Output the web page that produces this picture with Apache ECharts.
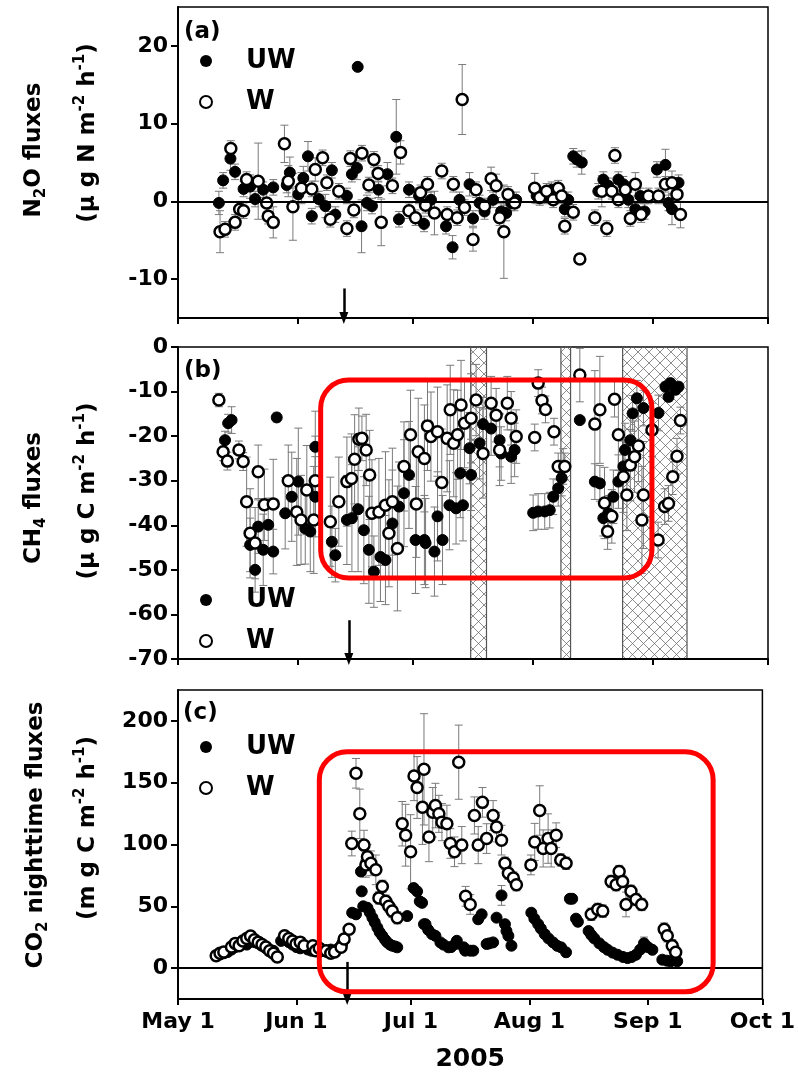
<!DOCTYPE html>
<html>
<head>
<meta charset="utf-8">
<title>N2O, CH4 and CO2 fluxes 2005</title>
<script src="https://cdn.jsdelivr.net/npm/echarts@6/dist/echarts.min.js"></script>
<style>
html, body { margin: 0; padding: 0; background: #fff; }
#main { width: 798px; height: 1073px; }
</style>
</head>
<body>
<div id="main"></div>
<script>
// x values are days after May 1, 2005
const monthTicks = [0, 31, 61, 92, 123, 153];
const monthLabels = ['May 1', 'Jun 1', 'Jul 1', 'Aug 1', 'Sep 1', 'Oct 1'];
const yearLabel = '2005';
const n2oTicks = [-10, 0, 10, 20];
const co2Ticks = [0, 50, 100, 150, 200];

// [day, flux, error]
const n2oUW = [[10.6,-0.2,1.5],[11.7,2.7,1],[13.6,5.5,1.5],[14.8,3.8,1],[17,1.6,1],[18.7,1.9,1.5],[20,0.3,1],[22.1,1.5,1],[24.7,1.8,1],[28.2,2.1,1],[29,3.7,2],[31.2,0.9,1],[32.5,3,1.5],[33.7,5.8,1.9],[34.7,-1.9,1],[36.5,0.3,1],[38.2,-0.6,1.5],[39.9,4,1],[40.8,-1.7,1],[43.8,0.7,1],[45.1,3.5,1],[46.4,4.3,1.5],[46.6,17.3,0],[47.6,-3.2,3.4],[49,-0.2,1],[50.3,-0.6,1],[52,1.5,1],[54.3,3.5,1.5],[56.6,8.3,4.8],[57.3,-2.3,1],[59.9,1.5,1],[62.5,0.7,1],[63.8,-2.9,1],[65.6,0.2,1],[69.5,-3.2,1],[71.2,-5.9,1.5],[73,0.2,1],[75.6,2.2,1.5],[76.5,-2.2,1],[78.2,-0.2,1],[79.5,-1.3,1],[81.7,0.2,1],[83.8,-1.3,1],[85.1,-1.5,1],[86.4,-0.2,1],[87.7,0.2,1],[93,0.7,1],[95.1,0.7,1],[96.9,1.5,1],[100.3,-1,1],[101.2,0.2,1],[102.5,5.8,1],[103.4,5.4,1],[104.7,5,1.5],[109,1.3,1],[110.3,2.8,1],[111.6,2,1],[114.2,2.8,1],[115.5,2.2,1],[116.8,0.2,1],[118.6,-1,1],[119.9,0.7,1],[121,-1.3,1],[124.2,4.1,1],[126.4,4.7,2],[127.2,-0.2,1],[128.1,-1,2],[129.8,2.4,1]];
const n2oW = [[10.9,-3.9,2.7],[12.2,-3.6,1],[13.7,6.8,1],[14.8,-2.7,1],[16,-1,1],[17,-1.2,1],[17.8,2.8,1],[20.8,2.6,4.9],[23,-0.2,2],[23.4,-1.9,1],[24.7,-2.7,2],[27.6,7.4,2.4],[28.6,2.6,2],[29.8,-0.7,4.3],[32,1.7,2],[34.7,1.6,1],[35.6,4.1,1.5],[37.5,5.6,1],[38.6,2.4,1],[39.5,-2.3,1],[41.7,1.3,1],[43.8,-3.5,1],[44.7,5.5,1],[45.6,-1.1,1],[47.7,6.2,1],[49.5,2.1,1],[50.8,5.4,1],[51.9,3.6,1],[52.7,-2.7,3],[55.6,2,1],[57.7,6.3,1.5],[59.9,-1.2,1],[61.6,-2.1,1],[62.9,1.1,1],[64.2,-0.5,1],[64.7,2.2,1],[66.5,-1.5,2.8],[68.4,3.9,1],[69.8,-1.7,1],[71.4,2.2,1],[72.4,-2.1,1],[73.7,13.1,4.5],[74.3,-0.8,1],[76.5,-4.9,1.5],[77.3,1.5,1],[79.5,-0.6,1],[81.2,2.9,1.5],[82.5,2,1.5],[83.4,-2.1,1],[84.5,-3.9,6],[85.6,0.9,1],[87.3,-0.2,1],[92.5,1.7,1.9],[93.8,0.5,1],[95.6,1.3,1],[97.3,0.2,1],[98.6,1.7,1],[99.5,0.7,1],[100.3,-3.2,1],[102.5,-1.4,1],[104.2,-7.4,0.5],[108.1,-2.1,1],[109.9,1.3,2],[111.2,-3.5,1],[112.5,1.3,1],[113.3,5.9,1],[114.2,0.2,1],[116,1.5,1],[117.3,-2.2,1],[118.6,2.2,1.5],[120.1,-1.7,1],[122,0.7,1],[124.6,0.7,1],[126.4,2.2,1],[128.1,2.4,1.5],[129.4,0.9,1],[130.3,-1.7,1.7]];

const ch4UW = [[12.2,-20.9,2],[13,-17.1,2],[13.9,-16.4,3],[18.7,-44.4,6],[20,-50,5],[20.8,-40.3,6],[22.1,-45.5,8],[23.4,-39.9,6],[24.7,-45.9,5],[25.6,-15.8,1],[27.8,-37.3,8],[29.5,-33.6,10],[31.2,-30.2,12],[33,-40.7,8],[34.3,-41.4,9],[35.6,-22.4,8],[35.6,-33.6,9],[39.9,-43.7,8],[40.8,-46.7,6],[43.8,-38.8,10],[45.1,-38.4,12],[46.7,-36.4,14],[48.2,-41.1,12],[49.5,-45.5,12],[50.8,-50.4,8],[52.5,-47.1,10],[53.8,-47.8,10],[55.6,-39.6,12],[57.3,-35.8,10],[58.6,-32.8,12],[59.9,-28.7,12],[61.6,-43.3,12],[63.9,-43.3,10],[64.2,-44,10],[66.5,-45.9,10],[67.3,-38,10],[68.6,-43.3,10],[70.4,-35.5,10],[72.1,-36.2,8],[73.2,-28.3,10],[73.9,-35.5,8],[75.6,-22.7,8],[76,-28.7,8],[78.2,-21.6,8],[79.1,-17.3,6],[81.2,-18.3,6],[83.4,-20.9,6],[83.8,-23.9,6],[86.4,-24.6,6],[87.3,-23.1,6],[92.1,-37.2,4],[93.4,-36.9,4],[95.1,-36.9,4],[96.4,-36.6,4],[97.3,-33.6,4],[98.6,-31.7,4],[99.5,-29.4,4],[99.9,-26.8,4],[104.2,-16.4,0],[108.1,-30.2,4],[109.4,-30.6,4],[110.3,-38.4,4],[111.6,-37.3,4],[112.9,-33.6,6],[114.2,-30.2,6],[115.5,-26.8,6],[115.9,-23.1,6],[117.3,-20.9,6],[117.9,-14.9,4],[119,-11.5,4],[120.7,-13.7,4],[124.6,-14.8,4],[126.4,-8.9,1],[127.2,-11.2,1],[127.7,-8.1,1],[129,-9.6,1],[129.8,-8.9,1]];
const ch4W = [[10.6,-11.9,1.5],[11.7,-23.5,2],[12.8,-25.6,2],[15.8,-23.1,2],[16.9,-25.7,2],[17.8,-34.7,10],[18.7,-41.8,10],[20,-44,8],[20.8,-28,6],[22.4,-35.4,8],[24.7,-35.2,10],[28.6,-30,8],[30.8,-37,12],[31.9,-38.8,10],[33.4,-32.1,10],[35.2,-38.8,12],[35.6,-30,10],[39.5,-39.2,10],[41.7,-34.7,10],[43.8,-30.2,10],[45,-29.5,10],[45.8,-25.2,10],[46.9,-20.7,7],[47.7,-20.5,5],[48.8,-23.1,8],[49.7,-28.7,10],[50.3,-37.3,12],[52.1,-37,12],[53.8,-35.5,12],[54.7,-41.8,12],[55.6,-34.7,12],[56.9,-45.2,14],[58.6,-26.8,10],[60.3,-19.7,10],[61.8,-35.2,12],[62.3,-23.5,12],[63.9,-25,12],[64.7,-17.7,10],[65.6,-20.1,10],[67.3,-19,10],[68.4,-30.4,12],[69.8,-20.5,12],[70.6,-14.1,10],[71.5,-21.6,12],[72.5,-19.7,10],[73.4,-13,10],[74.3,-17.1,10],[76,-16,10],[77.3,-11.9,8],[79.1,-23.9,10],[81.2,-12.6,6],[82.5,-15.3,6],[83.4,-23.1,8],[85.4,-12.6,6],[86.4,-16,6],[87.7,-20.1,6],[92.5,-20.3,3],[93.4,-8.1,3],[94.4,-12,3],[95.3,-14,3],[97.5,-19,3],[98.6,-26.8,3],[100.3,-26.8,3],[104.2,-6.3,6],[108.1,-17.3,12],[109.4,-14.1,12],[110.6,-35,8],[111.4,-41.4,4],[112.5,-38,6],[113.2,-11.7,4],[114.2,-19.7,8],[115.5,-29.1,8],[116.4,-33.2,8],[117.3,-26.5,8],[118.4,-24.6,8],[119.4,-22.2,8],[120.3,-38.8,12],[120.7,-33.2,12],[122.9,-18.6,6],[124.5,-43.3,4],[126.2,-35.8,4],[127.2,-35.1,4],[128.3,-29.1,4],[129.4,-24.5,4],[130.3,-16.5,3]];

const co2UW = [[10,10,0],[11,11,0],[12,12,0],[13,13,0],[14,15,0],[15,17,0],[16,18,0],[17,20,0],[18,19,0],[19,22,0],[20,21,0],[21,20,0],[22,18,0],[23,16,0],[24,15,0],[25,14,0],[27,22,0],[28,24,0],[29,21,0],[30,19,0],[31,17,0],[32,16,0],[33,18,0],[34,15,0],[35,14,0],[36,15,0],[37,13,0],[38,14,0],[39,13,0],[40,15,0],[41,14,0],[42,16,0],[43,20,0],[45.6,44.8,0],[46.6,43.5,0],[47.9,78.1,0],[48.1,62.1,0],[48.5,50,0],[49.6,48.8,0],[50.2,45,0],[50.9,40.8,0],[51.5,37,0],[52.2,32.8,0],[52.8,29,0],[53.5,26.1,0],[54.2,23,0],[54.8,20.8,0],[55.5,19,0],[56.1,18.1,0],[56.8,17.5,0],[57.4,16.8,0],[60,42.1,0],[61.7,64.8,0],[62.6,62.1,0],[63.3,54,0],[63.9,52.8,0],[64.4,35.5,0],[64.8,35.5,0],[65.5,31,0],[66.5,27.5,0],[67.4,26.1,0],[68.7,20.8,0],[69.5,19,0],[70.8,16.8,0],[71.5,17,0],[72.6,19.5,0],[73,22.1,0],[74.8,16.8,0],[75.2,14.1,0],[76.5,14.1,0],[77.3,14.1,0],[78.6,39.5,0],[79.5,43.5,0],[80.8,19.5,0],[81.5,20,0],[82.5,20.8,0],[83.4,40.8,0],[84.7,58.8,8],[85.6,35.5,0],[86,30,0],[86.5,26.1,0],[87.3,18.1,0],[92.5,44.8,0],[93.3,40,0],[94.3,35.5,0],[95,32,0],[96,27.5,0],[97,24,0],[98.2,20.8,0],[99.3,18,0],[100.3,16.8,0],[101.6,12.8,0],[102.6,56.1,0],[103.2,56.1,0],[104.2,40,0],[104.7,37.5,0],[107.5,30,0],[108.2,26.8,0],[109,24,0],[110.3,20.1,0],[111.5,17,0],[112.5,14.8,0],[113.8,12.5,0],[115.1,10.8,0],[116.5,9,0],[117.7,8.1,0],[118.8,9,0],[119.9,10.8,0],[121,15,0],[122,20.1,5],[123,17,0],[124.2,14.8,0],[126.8,6.8,0],[128,6,0],[129,5.5,0],[130.7,5.5,0]];
const co2W = [[10,10,0],[11,12,0],[12,13,0],[14,17,0],[15,20,0],[16,18,0],[17,22,0],[18,24,0],[19,26,0],[20,23,0],[21,21,0],[22,19,0],[23,17,0],[24,14,0],[25,12,0],[26,9,0],[27.9,26.1,0],[29,24,0],[30,22,0],[30.9,19.5,0],[32,21,0],[33,18,0],[35.3,18.1,0],[36,14,0],[37,16,0],[38.8,14.1,0],[40,12,0],[41,13,0],[42.7,16.8,0],[43.5,23.5,0],[44.8,31.5,0],[45.5,100.8,10],[46.6,157.6,12],[47.6,124.8,20],[48.7,99.5,12],[49.2,83.5,10],[49.6,90.1,10],[50.5,84.8,10],[51.8,79.5,12],[52.6,56.8,5],[53.5,66.1,5],[54.4,54.1,5],[55.2,50,5],[56.1,46.1,5],[57.4,40.8,5],[58.7,116.8,18],[59.6,107.5,25],[60.9,94.1,30],[61.8,155.5,20],[62.6,146.1,25],[64,130.1,30],[64.4,160.8,45],[65.7,106.1,20],[66.7,126.1,20],[67.4,131.5,18],[68.3,124.8,15],[69.1,118.1,15],[70.4,116.8,15],[71.3,100.8,12],[72.4,94.1,12],[73.5,166.6,30],[74.3,99.5,15],[75.3,58.1,8],[76.5,51.5,8],[77.6,123.5,15],[78.6,99.5,15],[79.7,134.1,12],[80.8,104.8,12],[82.5,123.5,12],[83.4,114.1,12],[84.7,103.5,12],[85.6,84.8,5],[86.5,76.8,5],[87.8,72.8,5],[88.6,67.5,5],[92.4,83.5,8],[93.4,102.1,15],[94.7,127.5,20],[95.6,96.8,15],[96.9,104.8,20],[97.7,96.8,15],[99,107.5,10],[100.2,87.5,5],[101.6,84.8,5],[108.2,43.5,5],[109.9,47.5,5],[111.2,46.1,5],[113.4,70.1,5],[114.7,67.5,5],[115.5,78.1,5],[116.4,70.1,5],[117.3,51.5,10],[118.6,62.1,5],[119.9,55.5,5],[121.4,51.5,5],[127.3,31.5,5],[128.1,26.1,5],[129.4,18.1,5],[130.3,12.8,5]];

// flooded periods shaded in (b), [start day, end day]
const hatchBands = [[75.9, 80], [99.3, 101.8], [115.3, 132]];
// arrow (date of event) per panel
const arrowDays = [43, 44.3, 44.3];

const FONT = 'DejaVu Sans';
const chart = echarts.init(document.getElementById('main'));

// cross hatch pattern
const hatch = document.createElement('canvas');
hatch.width = 11; hatch.height = 11;
const hctx = hatch.getContext('2d');
hctx.strokeStyle = '#707070';
hctx.lineWidth = 0.8;
hctx.beginPath();
hctx.moveTo(0, 0); hctx.lineTo(11, 11);
hctx.moveTo(11, 0); hctx.lineTo(0, 11);
hctx.stroke();

const grids = [
  { left: 178, top: 7, width: 590, height: 311 },
  { left: 178, top: 347, width: 590, height: 312 },
  { left: 178, top: 690, width: 590, height: 312 }
].map(g => Object.assign(g, { show: true, borderColor: '#000', borderWidth: 1.5 }));

const boldText = { fontFamily: FONT, fontWeight: 'bold', color: '#000' };

function xAxisFor(gi, showLabel) {
  return {
    type: 'value', gridIndex: gi, min: 0, max: 153,
    axisLine: { onZero: false, lineStyle: { color: '#000', width: 2 } },
    axisTick: { inside: false, length: 6, customValues: monthTicks, lineStyle: { color: '#000', width: 2 } },
    axisLabel: Object.assign({
      show: showLabel, customValues: monthTicks, margin: 12, fontSize: 22,
      formatter: v => monthLabels[monthTicks.indexOf(v)]
    }, boldText),
    splitLine: { show: false },
    name: showLabel ? yearLabel : '',
    nameLocation: 'middle', nameGap: 48,
    nameTextStyle: Object.assign({ fontSize: 25 }, boldText)
  };
}

function yAxisFor(gi, min, max, ticks, interval) {
  const ax = {
    type: 'value', gridIndex: gi, min: min, max: max,
    axisLine: { show: true, onZero: false, lineStyle: { color: '#000', width: 2 } },
    axisTick: { show: true, inside: false, length: 7, lineStyle: { color: '#000', width: 2 } },
    axisLabel: Object.assign({ margin: 10, fontSize: 22 }, boldText),
    splitLine: { show: false }
  };
  if (ticks) {
    ax.axisTick.customValues = ticks;
    ax.axisLabel.customValues = ticks;
  } else {
    ax.interval = interval;
  }
  return ax;
}

// error bars drawn through the axes
function errorBars(data, gi) {
  return {
    type: 'custom', xAxisIndex: gi, yAxisIndex: gi, silent: true, z: 1,
    data: data, encode: { x: 0, y: 1 }, clip: true,
    renderItem: function (params, api) {
      const x = api.value(0), y = api.value(1), e = api.value(2);
      if (!e) return;
      const top = api.coord([x, y + e]);
      const bot = api.coord([x, y - e]);
      const st = { stroke: '#7a7a7a', lineWidth: 1 };
      return {
        type: 'group', children: [
          { type: 'line', shape: { x1: top[0], y1: top[1], x2: bot[0], y2: bot[1] }, style: st },
          { type: 'line', shape: { x1: top[0] - 4, y1: top[1], x2: top[0] + 4, y2: top[1] }, style: st },
          { type: 'line', shape: { x1: bot[0] - 4, y1: bot[1], x2: bot[0] + 4, y2: bot[1] }, style: st }
        ]
      };
    }
  };
}

const uwStyle = { color: '#000', borderColor: '#000', borderWidth: 1, opacity: 1 };
const wStyle = { color: '#fff', borderColor: '#000', borderWidth: 2.5, opacity: 1 };

function points(name, data, gi, filled, extra) {
  return Object.assign({
    name: name, type: 'scatter', xAxisIndex: gi, yAxisIndex: gi,
    data: data, encode: { x: 0, y: 1 },
    symbol: 'circle', symbolSize: 11,
    itemStyle: filled ? uwStyle : wStyle,
    z: filled ? 3 : 4
  }, extra || {});
}

function zeroLine() {
  return {
    silent: true, symbol: 'none', label: { show: false },
    lineStyle: { color: '#000', width: 2, type: 'solid' },
    data: [{ yAxis: 0 }]
  };
}

function arrowLine(day, fromY, toY) {
  return {
    silent: true, symbol: ['none', 'triangle'], symbolSize: [9, 12], label: { show: false },
    lineStyle: { color: '#000', width: 2.5, type: 'solid' },
    data: [[{ coord: [day, fromY] }, { coord: [day, toY] }]]
  };
}

const hatchSeries = {
  type: 'custom', xAxisIndex: 1, yAxisIndex: 1, silent: true, z: 0,
  data: hatchBands, encode: { x: [0, 1] },
  renderItem: function (params, api) {
    const p0 = api.coord([api.value(0), 0]);
    const p1 = api.coord([api.value(1), -70]);
    return {
      type: 'rect',
      shape: { x: p0[0], y: p0[1], width: p1[0] - p0[0], height: p1[1] - p0[1] },
      style: { fill: { image: hatch, repeat: 'repeat' }, stroke: '#555', lineWidth: 1.2 }
    };
  }
};

function legendAt(top) {
  return {
    left: 194, top: top, orient: 'vertical', itemGap: 15,
    itemWidth: 12, itemHeight: 12, selectedMode: false,
    textStyle: Object.assign({ fontSize: 26, padding: [0, 0, 0, 29] }, boldText),
    data: [
      { name: 'UW', icon: 'circle', itemStyle: { color: '#000', borderColor: '#000', borderWidth: 0, opacity: 1 } },
      { name: 'W', icon: 'circle', itemStyle: { color: '#fff', borderColor: '#000', borderWidth: 2, opacity: 1 } }
    ]
  };
}

// y axis titles with sub/superscripts
const richBase = Object.assign({ fontSize: 23, lineHeight: 30 }, boldText);
const rich = {
  t: richBase,
  sub: Object.assign({}, richBase, { fontSize: 15, verticalAlign: 'bottom' }),
  sup: Object.assign({}, richBase, { fontSize: 15, verticalAlign: 'top' })
};
function yTitle(id, x, y, text) {
  return {
    type: 'text', id: id, x: x, y: y, rotation: Math.PI / 2, z: 50,
    style: { text: text, rich: rich, align: 'center', verticalAlign: 'middle' }
  };
}
function panelLabel(id, x, y, text) {
  return {
    type: 'text', id: id, x: x, y: y, z: 50,
    style: { text: text, fontSize: 23, verticalAlign: 'middle', fill: '#000', fontFamily: FONT, fontWeight: 'bold' }
  };
}

const baseGraphic = [
  yTitle('ta1', 34, 150, '{t|N}{sub|2}{t|O fluxes}'),
  yTitle('ta2', 88, 133, '{t|(μ g N m}{sup|-2}{t| h}{sup|-1}{t|)}'),
  yTitle('tb1', 34, 498, '{t|CH}{sub|4}{t| fluxes}'),
  yTitle('tb2', 88, 491, '{t|(μ g C m}{sup|-2}{t| h}{sup|-1}{t|)}'),
  yTitle('tc1', 36, 835, '{t|CO}{sub|2}{t| nighttime fluxes}'),
  yTitle('tc2', 88, 828, '{t|(m g C m}{sup|-2}{t| h}{sup|-1}{t|)}'),
  panelLabel('la', 184, 32, '(a)'),
  panelLabel('lb', 184, 371, '(b)'),
  panelLabel('lc', 183, 713, '(c)')
];

const option = {
  animation: false,
  backgroundColor: '#fff',
  grid: grids,
  xAxis: [xAxisFor(0, false), xAxisFor(1, false), xAxisFor(2, true)],
  yAxis: [
    yAxisFor(0, -15, 25, n2oTicks),
    yAxisFor(1, -70, 0, null, 10),
    yAxisFor(2, -25, 225, co2Ticks)
  ],
  legend: [legendAt(43), legendAt(582), legendAt(729)],
  graphic: baseGraphic,
  series: [
    hatchSeries,
    errorBars(n2oUW, 0), errorBars(n2oW, 0),
    errorBars(ch4UW, 1), errorBars(ch4W, 1),
    errorBars(co2UW, 2), errorBars(co2W, 2),
    points('UW', n2oUW, 0, true, { markLine: zeroLine() }),
    points('W', n2oW, 0, false, { markLine: arrowLine(arrowDays[0], -11.2, -15) }),
    points('UW', ch4UW, 1, true),
    points('W', ch4W, 1, false, { markLine: arrowLine(arrowDays[1], -61.3, -70) }),
    points('UW', co2UW, 2, true, { markLine: zeroLine() }),
    points('W', co2W, 2, false, { markLine: arrowLine(arrowDays[2], 5, -25) })
  ]
};
chart.setOption(option);

// red highlight boxes, given in data coordinates of panels (b) and (c)
const highlightBoxes = [
  { axis: 1, from: [37, -7.4], to: [122.9, -51.8] },
  { axis: 2, from: [37, 175], to: [140.1, -19.2] }
];
const boxGraphic = highlightBoxes.map((b, i) => {
  const finder = { xAxisIndex: b.axis, yAxisIndex: b.axis };
  const p0 = chart.convertToPixel(finder, b.from);
  const p1 = chart.convertToPixel(finder, b.to);
  return {
    type: 'rect', id: 'box' + i, z: 100,
    shape: { x: p0[0], y: p0[1], width: p1[0] - p0[0], height: p1[1] - p0[1], r: 28 },
    style: { fill: 'none', stroke: '#ff0000', lineWidth: 5 }
  };
});
chart.setOption({ graphic: baseGraphic.concat(boxGraphic) }, { replaceMerge: ['graphic'] });
</script>
</body>
</html>
